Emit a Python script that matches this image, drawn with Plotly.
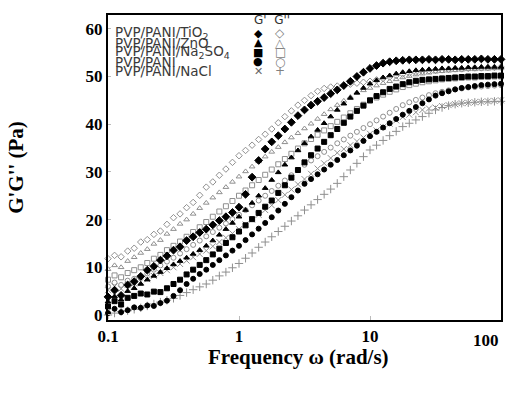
import math
import plotly.graph_objects as go

freq = [0.1, 0.1122, 0.1259, 0.1413, 0.1585, 0.1778, 0.1995, 0.2239, 0.2512, 0.2818,
        0.3162, 0.3548, 0.3981, 0.4467, 0.5012, 0.5623, 0.631, 0.7079, 0.7943, 0.8913,
        1, 1.122, 1.259, 1.413, 1.585, 1.778, 1.995, 2.239, 2.512, 2.818,
        3.162, 3.548, 3.981, 4.467, 5.012, 5.623, 6.31, 7.079, 7.943, 8.913,
        10, 11.22, 12.59, 14.13, 15.85, 17.78, 19.95, 22.39, 25.12, 28.18,
        31.62, 35.48, 39.81, 44.67, 50.12, 56.23, 63.1, 70.79, 79.43, 89.13, 100]

tio2_gpp = [11.8, 12.5, 12.2, 13.4, 14.0, 15.3, 15.8, 16.9, 17.6, 19.0,
            20.4, 21.2, 22.5, 23.6, 25.1, 26.8, 27.9, 29.3, 30.6, 32.0,
            33.4, 34.5, 35.6, 36.8, 37.9, 39.0, 40.3, 41.6, 42.8, 44.0,
            45.0, 46.0, 46.9, 47.5, 47.8, 48.0, 48.2, 48.4, 48.6, 48.8,
            49.0, 49.3, 49.6, 49.9, 50.2, 50.5, 50.7, 50.9, 51.1, 51.2,
            51.3, 51.4, 51.5, 51.6, 51.6, 51.7, 51.8, 51.8, 51.9, 51.9, 52.0]
tio2_gp = [3.8, 5.2, 4.1, 6.3, 7.0, 8.1, 9.4, 10.2, 11.5, 12.4,
           13.6, 14.3, 15.6, 16.4, 17.3, 18.0, 18.9, 19.8, 20.6, 21.5,
           22.6, 25.3, 28.9, 32.4, 34.8, 36.3, 37.6, 39.0, 40.4, 41.8,
           43.0, 44.0, 44.8, 45.6, 46.4, 47.2, 48.1, 49.0, 50.0, 50.9,
           51.7, 52.3, 52.8, 53.1, 53.3, 53.4, 53.5, 53.5, 53.5, 53.6,
           53.5, 53.6, 53.6, 53.5, 53.6, 53.6, 53.6, 53.7, 53.6, 53.6, 53.6]
zno_gpp = [9.6, 10.4, 10.0, 11.3, 12.1, 13.0, 13.8, 14.9, 15.7, 17.0,
           18.0, 19.1, 20.0, 21.2, 22.4, 23.5, 24.6, 25.7, 26.8, 27.9,
           29.0, 30.1, 31.1, 32.2, 33.2, 34.2, 35.2, 36.2, 37.2, 38.1,
           39.1, 40.1, 41.1, 42.1, 43.1, 44.0, 44.9, 45.7, 46.5, 47.1,
           47.6, 48.1, 48.6, 49.0, 49.4, 49.8, 50.1, 50.4, 50.6, 50.8,
           51.0, 51.1, 51.2, 51.3, 51.4, 51.5, 51.5, 51.6, 51.6, 51.7, 51.7]
zno_gp = [2.8, 3.9, 3.2, 5.0, 5.6, 6.5, 7.4, 8.2, 9.0, 9.8,
          10.6, 11.3, 12.0, 12.8, 13.6, 14.5, 15.6, 16.8, 18.0, 19.3,
          20.6, 22.0, 23.5, 25.0, 26.6, 28.3, 29.9, 31.5, 33.0, 34.5,
          36.0, 37.4, 38.8, 40.2, 41.6, 43.0, 44.3, 45.5, 46.6, 47.6,
          48.5, 49.2, 49.8, 50.2, 50.6, 50.9, 51.1, 51.3, 51.4, 51.5,
          51.6, 51.7, 51.7, 51.8, 51.8, 51.9, 51.9, 52.0, 52.0, 52.0, 52.0]
na2so4_gpp = [7.4, 8.3, 7.9, 8.8, 9.4, 10.0, 10.9, 11.8, 12.6, 13.6,
              14.5, 15.4, 16.4, 17.4, 18.4, 19.5, 20.6, 21.7, 22.8, 23.9,
              25.0, 26.1, 27.2, 28.3, 29.4, 30.5, 31.6, 32.7, 33.8, 34.9,
              36.0, 36.9, 37.8, 38.7, 39.6, 40.5, 41.4, 42.3, 43.2, 44.1,
              45.0, 45.6, 46.2, 46.8, 47.3, 47.8, 48.2, 48.5, 48.8, 49.0,
              49.2, 49.4, 49.5, 49.6, 49.7, 49.8, 49.8, 49.9, 49.9, 50.0, 50.0]
na2so4_gp = [1.8, 2.9, 2.2, 3.6, 4.0, 4.5, 4.3, 4.9, 4.8, 5.6,
             6.5, 7.4, 8.5, 9.5, 10.5, 11.5, 12.7, 13.9, 15.1, 16.3,
             17.5, 18.8, 20.1, 21.4, 22.7, 24.0, 25.6, 27.2, 28.8, 30.4,
             32.0, 33.5, 34.9, 36.3, 37.7, 39.0, 40.3, 41.6, 42.8, 43.9,
             45.0, 45.9, 46.7, 47.4, 47.9, 48.4, 48.8, 49.1, 49.3, 49.4,
             49.5, 49.6, 49.7, 49.8, 49.9, 50.0, 50.0, 50.1, 50.1, 50.2, 50.2]
pani_gpp = [6.0, 6.8, 6.3, 7.2, 7.6, 8.0, 8.7, 9.5, 10.4, 11.2,
            12.0, 12.9, 13.8, 14.7, 15.6, 16.5, 17.4, 18.3, 19.2, 20.1,
            21.0, 22.0, 23.0, 24.0, 25.0, 26.0, 27.1, 28.2, 29.3, 30.4,
            31.5, 32.4, 33.3, 34.2, 35.1, 36.0, 36.8, 37.6, 38.4, 39.2,
            40.0, 40.8, 41.6, 42.4, 43.2, 44.0, 44.6, 45.1, 45.6, 46.1,
            46.5, 46.8, 47.1, 47.3, 47.5, 47.7, 47.8, 47.9, 48.0, 48.1, 48.2]
pani_gp = [0.4, 1.3, 0.6, 1.0, 1.6, 1.5, 2.0, 1.9, 2.5, 3.0,
           4.0, 5.2, 6.5, 7.6, 8.6, 9.5, 10.5, 11.5, 12.5, 13.5,
           14.5, 15.7, 16.9, 18.1, 19.3, 20.5, 21.9, 23.3, 24.7, 26.1,
           27.5, 28.5, 29.5, 30.5, 31.5, 32.5, 33.5, 34.5, 35.5, 36.5,
           37.5, 38.4, 39.3, 40.2, 41.1, 42.0, 42.8, 43.6, 44.4, 45.2,
           46.0, 46.5, 46.9, 47.3, 47.6, 47.8, 48.0, 48.2, 48.3, 48.4, 48.5]
nacl_gp = [5.2, 6.0, 5.5, 6.3, 6.6, 7.0, 7.5, 8.2, 8.8, 9.4,
           10.0, 10.7, 11.4, 12.1, 12.8, 13.5, 14.4, 15.3, 16.2, 17.1,
           18.0, 19.0, 20.0, 21.0, 22.0, 23.0, 24.1, 25.2, 26.3, 27.4,
           28.5, 29.6, 30.7, 31.8, 32.9, 34.0, 34.8, 35.6, 36.4, 37.2,
           38.0, 38.7, 39.4, 40.1, 40.8, 41.5, 42.0, 42.5, 43.0, 43.3,
           43.5, 43.8, 44.0, 44.2, 44.4, 44.5, 44.6, 44.7, 44.8, 44.9, 45.0]
nacl_gpp = [0.0, 0.4, 0.7, 0.9, 1.2, 1.5, 1.9, 2.3, 2.7, 3.1,
            3.5, 4.1, 4.7, 5.3, 5.9, 6.5, 7.3, 8.2, 9.0, 9.9,
            10.8, 11.9, 13.0, 14.2, 15.3, 16.4, 17.5, 18.6, 19.7, 20.8,
            22.0, 23.1, 24.2, 25.3, 26.4, 27.6, 29.0, 30.4, 31.8, 33.2,
            34.6, 35.6, 36.6, 37.6, 38.5, 39.5, 40.2, 40.9, 41.6, 42.3,
            43.0, 43.5, 43.9, 44.2, 44.4, 44.5, 44.6, 44.7, 44.7, 44.8, 44.8]

legend_names = ["PVP/PANI/TiO<sub>2</sub>", "PVP/PANI/ZnO", "PVP/PANI/Na<sub>2</sub>SO<sub>4</sub>",
                "PVP/PANI", "PVP/PANI/NaCl"]
legend_gp_sym = ["◆", "▲", "■", "●", "✕"]
legend_gpp_sym = ["◇", "△", "□", "○", "+"]
x_ticks = [0.1, 1, 10]
x_tick_text = ["0.1", "1", "10"]
x_last_tick = 100
y_ticks = [0, 10, 20, 30, 40, 50, 60]

BLACK = "#000000"
GREY = "#8f8f8f"

series = [
    (tio2_gpp, "diamond-open", GREY, 5),
    (zno_gpp, "triangle-up-open", GREY, 5),
    (na2so4_gpp, "square-open", GREY, 5),
    (pani_gpp, "circle-open", GREY, 5),
    (nacl_gp, "x-thin-open", GREY, 6),
    (nacl_gpp, "cross-thin-open", GREY, 6),
    (pani_gp, "circle", BLACK, 5),
    (na2so4_gp, "square", BLACK, 5),
    (zno_gp, "triangle-up", BLACK, 5),
    (tio2_gp, "diamond", BLACK, 6),
]

fig = go.Figure()
for vals, sym, col, size in series:
    fig.add_trace(go.Scatter(
        x=freq, y=vals, mode="markers",
        marker=dict(symbol=sym, color=col, size=size, line=dict(color=col, width=1)),
        showlegend=False, cliponaxis=False))

serif = "Liberation Serif, Times New Roman, serif"
sans = "DejaVu Sans, Arial, sans-serif"

fig.update_layout(
    width=507, height=394,
    margin=dict(l=108, r=4, t=15, b=74),
    paper_bgcolor="white", plot_bgcolor="white",
    xaxis=dict(type="log", range=[-1, 2], tickvals=x_ticks, ticktext=x_tick_text,
               ticks="inside", ticklen=4, tickcolor="#bbbbbb",
               showgrid=False, zeroline=False,
               showline=True, linecolor="black", linewidth=2, mirror=True,
               tickfont=dict(family=serif, size=17, color="black", weight="bold")),
    yaxis=dict(range=[-1.05, 62.9], tickvals=y_ticks,
               ticks="inside", ticklen=3, tickcolor="#bbbbbb",
               showgrid=False, zeroline=False,
               showline=True, linecolor="black", linewidth=2, mirror=True,
               tickfont=dict(family=serif, size=17, color="black", weight="bold"),
               title=dict(text="<b>G'G'' (Pa)</b>", standoff=56,
                          font=dict(family=serif, size=21, color="black"))),
)

annotations = []
annotations.append(dict(x=math.log10(x_last_tick), xref="x", y=0, yref="paper", yshift=-9,
                        text=str(x_last_tick), showarrow=False,
                        font=dict(family=serif, size=17, color="black", weight="bold"),
                        xanchor="right", yanchor="top"))
annotations.append(dict(x=(299 - 108) / 395, y=-37 / 305, xref="paper", yref="paper",
                        text="<b>Frequency ω (rad/s)</b>", showarrow=False,
                        font=dict(family=serif, size=21, color="black"),
                        xanchor="center", yanchor="middle"))
annotations.append(dict(x=(253 - 108) / 395, y=(320 - 20) / 305, xref="paper", yref="paper",
                        text="G'  G''", showarrow=False,
                        font=dict(family=sans, size=12, color="#333333"),
                        xanchor="left", yanchor="middle"))
line_y = [33, 43, 52, 62, 71]
for i, name in enumerate(legend_names):
    yy = (320 - line_y[i]) / 305
    annotations.append(dict(x=(113 - 108) / 395, y=yy, xref="paper", yref="paper",
                            text=name, showarrow=False,
                            font=dict(family=sans, size=13.5, color="#3a3a3a"),
                            xanchor="left", yanchor="middle"))
    annotations.append(dict(x=(259 - 108) / 395, y=yy, xref="paper", yref="paper",
                            text=legend_gp_sym[i], showarrow=False,
                            font=dict(family="DejaVu Sans", size=11,
                                      color=("#666666" if i == 4 else "black")),
                            xanchor="center", yanchor="middle"))
    annotations.append(dict(x=(281 - 108) / 395, y=yy, xref="paper", yref="paper",
                            text=legend_gpp_sym[i], showarrow=False,
                            font=dict(family="DejaVu Sans", size=12, color="#808080"),
                            xanchor="center", yanchor="middle"))
fig.update_layout(annotations=annotations)

fig.write_html("out.html", config={"displayModeBar": False},
               post_script="document.body.style.margin='0px';document.body.style.overflow='hidden';")
